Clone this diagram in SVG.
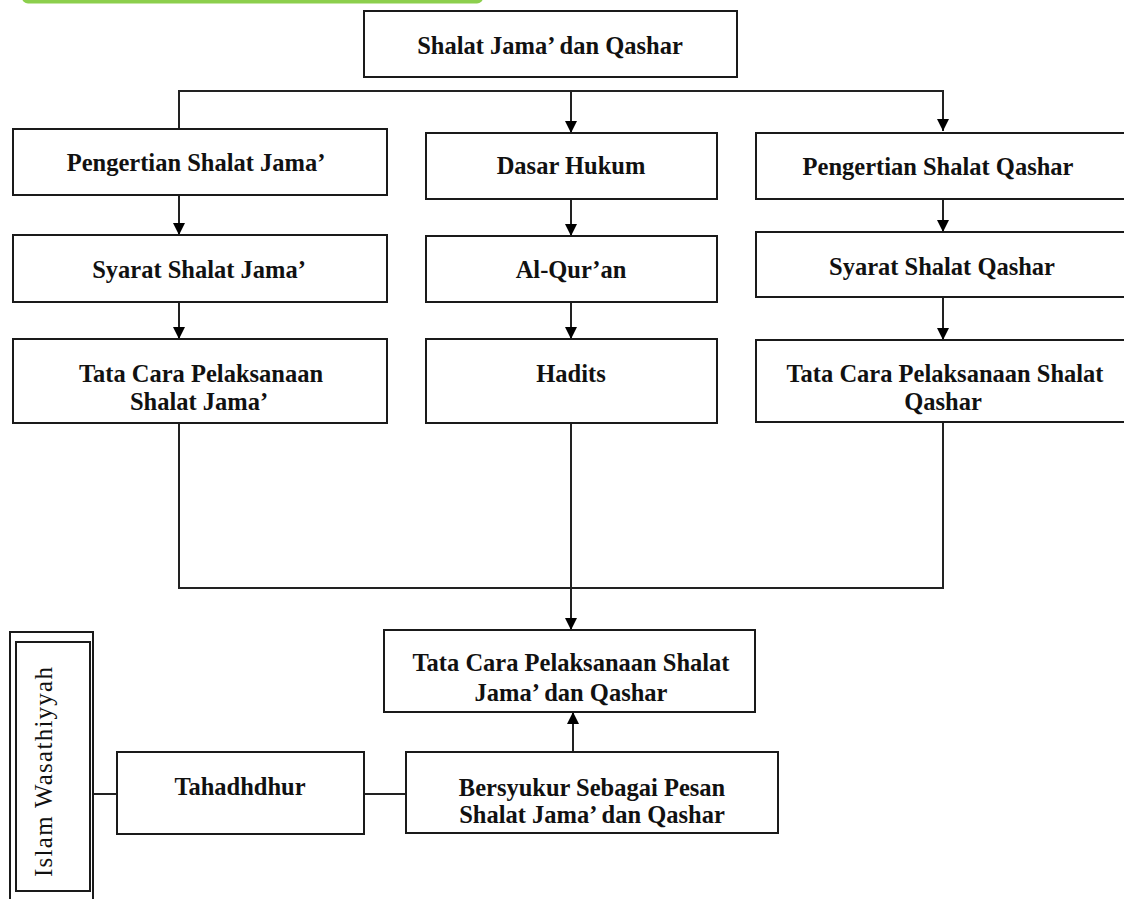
<svg xmlns="http://www.w3.org/2000/svg" width="1124" height="899" viewBox="0 0 1124 899">
<style>
.box{fill:#fff;stroke:#1a1a1a;stroke-width:2}
.t{font-family:"Liberation Serif","Times New Roman",serif;font-weight:bold;font-size:24.5px;fill:#111;text-anchor:middle}
.r{font-family:"Liberation Serif","Times New Roman",serif;font-size:25px;fill:#111;text-anchor:middle}
.ln{fill:none;stroke:#222;stroke-width:2}
</style>
<defs>
<marker id="ah" markerUnits="userSpaceOnUse" markerWidth="14" markerHeight="14" viewBox="0 0 14 14" refX="12" refY="7" orient="auto">
<path d="M0,1 L12,7 L0,13 Z" fill="#000"/>
</marker>
</defs>
<rect x="22" y="-10" width="461" height="13.5" rx="6" fill="#8ccf4d"/>
<g id="connectors">
<polyline class="ln" points="179,130 179,91 943,91 943,131" marker-end="url(#ah)"/>
<line class="ln" x1="571" y1="91" x2="571" y2="133" marker-end="url(#ah)"/>
<line class="ln" x1="179" y1="195" x2="179" y2="235" marker-end="url(#ah)"/>
<line class="ln" x1="179" y1="302" x2="179" y2="339" marker-end="url(#ah)"/>
<line class="ln" x1="571" y1="199" x2="571" y2="236" marker-end="url(#ah)"/>
<line class="ln" x1="571" y1="302" x2="571" y2="339" marker-end="url(#ah)"/>
<line class="ln" x1="943" y1="199" x2="943" y2="232" marker-end="url(#ah)"/>
<line class="ln" x1="943" y1="297" x2="943" y2="340" marker-end="url(#ah)"/>
<polyline class="ln" points="179,423 179,588 943,588 943,422"/>
<line class="ln" x1="571" y1="423" x2="571" y2="630" marker-end="url(#ah)"/>
<line class="ln" x1="573" y1="752" x2="573" y2="712" marker-end="url(#ah)"/>
<line class="ln" x1="92" y1="794" x2="117" y2="794"/>
<line class="ln" x1="364" y1="794" x2="406" y2="794"/>
</g>
<g id="n-top">
<rect class="box" x="364" y="11" width="373" height="66"/>
<text class="t" x="550" y="54">Shalat Jama’ dan Qashar</text>
</g>
<g id="n-pengertian-jama">
<rect class="box" x="13" y="129" width="374" height="66"/>
<text class="t" x="196" y="171">Pengertian Shalat Jama’</text>
</g>
<g id="n-syarat-jama">
<rect class="box" x="13" y="235" width="374" height="67"/>
<text class="t" x="199" y="278">Syarat Shalat Jama’</text>
</g>
<g id="n-tatacara-jama">
<rect class="box" x="13" y="339" width="374" height="84"/>
<text class="t" x="201" y="382">Tata Cara Pelaksanaan</text>
<text class="t" x="199" y="410">Shalat Jama’</text>
</g>
<g id="n-dasar">
<rect class="box" x="426" y="133" width="291" height="66"/>
<text class="t" x="571" y="174">Dasar Hukum</text>
</g>
<g id="n-quran">
<rect class="box" x="426" y="236" width="291" height="66"/>
<text class="t" x="571" y="278">Al-Qur’an</text>
</g>
<g id="n-hadits">
<rect class="box" x="426" y="339" width="291" height="84"/>
<text class="t" x="571" y="382">Hadits</text>
</g>
<g id="n-pengertian-qashar">
<rect class="box" x="756" y="133" width="380" height="66"/>
<text class="t" x="938" y="175">Pengertian Shalat Qashar</text>
</g>
<g id="n-syarat-qashar">
<rect class="box" x="756" y="232" width="380" height="65"/>
<text class="t" x="942" y="275">Syarat Shalat Qashar</text>
</g>
<g id="n-tatacara-qashar">
<rect class="box" x="756" y="340" width="380" height="82"/>
<text class="t" x="945" y="382">Tata Cara Pelaksanaan Shalat</text>
<text class="t" x="943" y="410">Qashar</text>
</g>
<g id="n-tatacara-both">
<rect class="box" x="384" y="630" width="371" height="82"/>
<text class="t" x="571" y="671">Tata Cara Pelaksanaan Shalat</text>
<text class="t" x="571" y="701">Jama’ dan Qashar</text>
</g>
<g id="n-bersyukur">
<rect class="box" x="406" y="752" width="372" height="81"/>
<text class="t" x="592" y="796">Bersyukur Sebagai Pesan</text>
<text class="t" x="592" y="823">Shalat Jama’ dan Qashar</text>
</g>
<g id="n-tahadhdhur">
<rect class="box" x="117" y="752" width="247" height="82"/>
<text class="t" x="240" y="795">Tahadhdhur</text>
</g>
<g id="n-islam">
<rect class="box" x="10" y="632" width="83" height="280"/>
<rect class="box" x="16" y="642" width="74" height="249"/>
<text class="r" transform="translate(52,772) rotate(-90)" x="0" y="0" textLength="210" lengthAdjust="spacing">Islam  Wasathiyyah</text>
</g>
</svg>
